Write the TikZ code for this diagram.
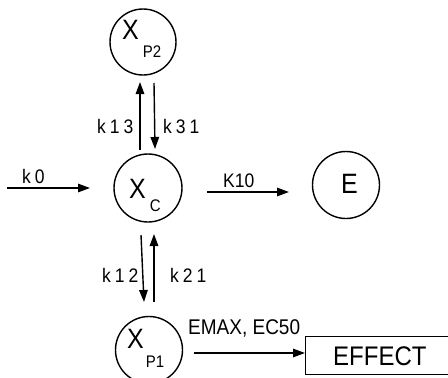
\documentclass[tikz,border=0pt]{standalone}
\usepackage{fontspec}
\setmainfont{Liberation Sans}
\usetikzlibrary{arrows.meta}
\newcommand\vst[1]{\scalebox{1}[1.12]{#1}}
\begin{document}
\begin{tikzpicture}[x=1pt,y=-1pt,
  comp/.style={draw,circle,inner sep=0pt,line width=1.4pt},
  lbl/.style={inner sep=0pt,anchor=base west},
  flow/.style={line width=1.4pt,-{Triangle[length=12pt,width=8.5pt]}},
  bigx/.style={font=\fontsize{25}{25}\selectfont},
  klab/.style={font=\fontsize{17.5}{17.5}\selectfont}]
\useasboundingbox (0,0) rectangle (448,378);
\clip (0,0) rectangle (448,378);
% compartments
\node[comp,minimum size=66pt] (xp2) at (143,42) {};
\node[comp,minimum size=68pt] (xc) at (148,188) {};
\node[comp,minimum size=67pt] (e) at (346,185) {};
\node[comp,minimum size=67pt] (xp1) at (149,350) {};
\node[draw,line width=1.4pt,inner sep=0pt,minimum width=160pt,minimum height=38pt,anchor=north west] (eff) at (305,336) {};
% texts
\node[lbl,bigx] (xp2t) at (122,39) {\vst{X}\hspace{4pt}\raisebox{-18pt}{\fontsize{15}{15}\selectfont\vst{P2}}};
\node[lbl,bigx] (xct) at (129,198) {\vst{X}\hspace{4pt}\raisebox{-13pt}{\fontsize{15}{15}\selectfont\vst{C}}};
\node[lbl,bigx] (xp1t) at (127,348) {\vst{X}\hspace{2pt}\raisebox{-19pt}{\fontsize{15}{15}\selectfont\vst{P1}}};
\node[lbl,font=\fontsize{25}{25}\selectfont] (et) at (341,193) {\vst{E}};
\node[lbl,font=\fontsize{24}{24}\selectfont] (efft) at (333,365) {\vst{EFFECT}};
% arrow end points
\coordinate (k0a) at (7,188);   \coordinate (k0b) at (90,188);
\coordinate (k10a) at (207,192); \coordinate (k10b) at (289,192);
\coordinate (k13a) at (140,150); \coordinate (k13b) at (140,82);
\coordinate (k31a) at (154,83);  \coordinate (k31b) at (155,149);
\coordinate (k12a) at (141,235); \coordinate (k12b) at (144,302);
\coordinate (k21a) at (154,302); \coordinate (k21b) at (154,234);
\coordinate (ea) at (194,353);   \coordinate (eb) at (305,353);
\draw[flow] (k0a) -- (k0b);
\draw[flow] (k10a) -- (k10b);
\draw[flow] (k13a) -- (k13b);
\draw[flow] (k31a) -- (k31b);
\draw[flow] (k12a) -- (k12b);
\draw[flow] (k21a) -- (k21b);
\draw[flow] (ea) -- (eb);
% rate labels
\node[lbl,klab] (lk0) at (22,183) {\vst{k\kern4pt 0}};
\node[lbl,klab] (lk10) at (223,187) {\vst{K10}};
\node[lbl,klab] (lk13) at (97,133) {\vst{k\kern4pt 1\kern4pt 3}};
\node[lbl,klab] (lk31) at (163,133) {\vst{k\kern4pt 3\kern4pt 1}};
\node[lbl,klab] (lk12) at (102,282) {\vst{k\kern4pt 1\kern4pt 2}};
\node[lbl,klab] (lk21) at (170,282) {\vst{k\kern4pt 2\kern4pt 1}};
\node[lbl,font=\fontsize{19}{19}\selectfont] (lem) at (188,334) {\vst{EMAX, EC50}};
\end{tikzpicture}
\end{document}
